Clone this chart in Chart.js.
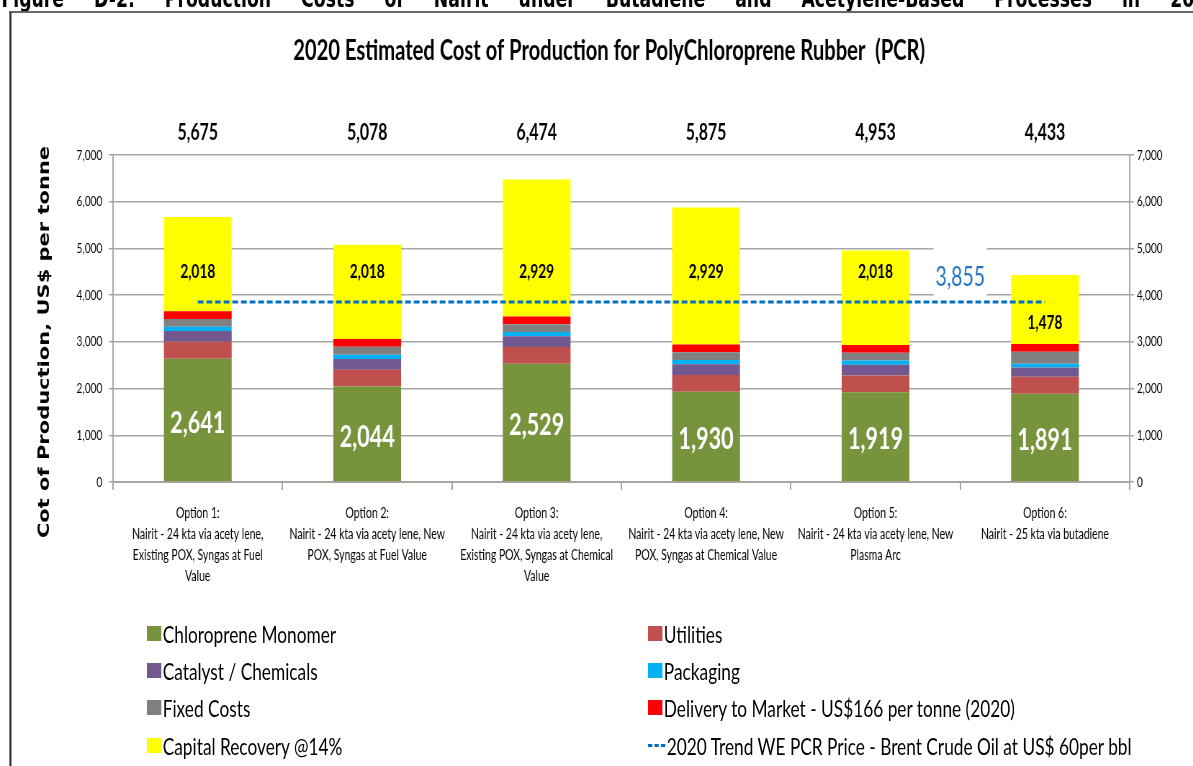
<!DOCTYPE html>
<html>
<head>
<meta charset="utf-8">
<script src="https://cdn.jsdelivr.net/npm/chart.js@4/dist/chart.umd.min.js"></script>
<style>
  html, body { margin: 0; padding: 0; background: #fff; }
  body { width: 1193px; height: 766px; position: relative; overflow: hidden; }
  /* the original picture is squeezed sideways, so lay out wide and squeeze */
  #wrap {
    position: absolute; left: 0; top: 0; width: 1657px; height: 766px;
    transform: scaleX(0.72); transform-origin: 0 0;
  }
  #caption {
    position: absolute; left: 2px; top: -15px; width: 1690px;
    font: bold 24px "DejaVu Sans", sans-serif; color: #000;
    text-align: justify; text-align-last: justify; white-space: nowrap;
  }
  #frame {
    position: absolute; left: 13px; top: 11px; width: 1700px; height: 800px;
    border-top: 2px solid #666; border-left: 3px solid #333;
  }
  #chart { position: absolute; left: 0; top: 0; }
  #legend { position: absolute; left: 0; top: 0; font-family: Lato, sans-serif; font-size: 24px; color: #000; }
  .lg { position: absolute; display: flex; align-items: center; white-space: nowrap; height: 26px; }
  .lg .box { width: 20px; height: 15px; margin-right: 2px; }
  .lg .dash { width: 24px; height: 0; border-top: 3px dashed #0070c0; margin-right: 2px; }
</style>
</head>
<body>
<div id="wrap">
<div id="caption">Figure D-2: Production Costs of Nairit under Butadiene and Acetylene-Based Processes in 2020</div>
<div id="frame"></div>
<canvas id="chart" width="1657" height="766"></canvas>
<div id="legend"></div>
</div>
<script>
/* ── data ── */
const categories = [
  ['Option 1:', 'Nairit - 24 kta via acety lene,', 'Existing POX, Syngas at Fuel', 'Value'],
  ['Option 2:', 'Nairit - 24 kta via acety lene, New', 'POX, Syngas at Fuel Value'],
  ['Option 3:', 'Nairit - 24 kta via acety lene,', 'Existing POX, Syngas at Chemical', 'Value'],
  ['Option 4:', 'Nairit - 24 kta via acety lene, New', 'POX, Syngas at Chemical Value'],
  ['Option 5:', 'Nairit - 24 kta via acety lene, New', 'Plasma Arc'],
  ['Option 6:', 'Nairit - 25 kta via butadiene']
];
const chloroprene     = [2641, 2044, 2529, 1930, 1919, 1891];
const utilities       = [360, 360, 360, 360, 360, 360];
const catalyst        = [230, 230, 230, 230, 230, 200];
const packaging       = [90, 90, 90, 90, 90, 80];
const fixedCosts      = [170, 170, 170, 170, 170, 258];
const delivery        = [166, 166, 166, 166, 166, 166];
const capitalRecovery = [2018, 2018, 2929, 2929, 2018, 1478];
const totals          = [5675, 5078, 6474, 5875, 4953, 4433];
const trendPrice      = [3855, 3855, 3855, 3855, 3855, 3855];
const yTicks          = [0, 1000, 2000, 3000, 4000, 5000, 6000, 7000];

const FONT = 'Lato, sans-serif';
const GRID = '#a6a6a6';
const fmt = v => v.toLocaleString('en-US');

const barSeries = [
  { label: 'Chloroprene Monomer', data: chloroprene, color: '#77933c' },
  { label: 'Utilities', data: utilities, color: '#c0504d' },
  { label: 'Catalyst / Chemicals', data: catalyst, color: '#72588f' },
  { label: 'Packaging', data: packaging, color: '#00b0f0' },
  { label: 'Fixed Costs', data: fixedCosts, color: '#808080' },
  { label: 'Delivery to Market - US$166 per tonne (2020)', data: delivery, color: '#ff0000' },
  { label: 'Capital Recovery @14%', data: capitalRecovery, color: '#ffff00' }
];
const trendLabel = '2020 Trend WE PCR Price - Brent Crude Oil at US$ 60per bbl';

/* ── labels, title, axis title ── */
const textPlugin = {
  id: 'texts',
  afterDatasetsDraw(chart) {
    const ctx = chart.ctx;
    const x = chart.scales.x, y = chart.scales.y;
    const trendY = y.getPixelForValue(trendPrice[0]);
    ctx.save();
    ctx.textAlign = 'center';
    ctx.textBaseline = 'middle';

    // green segment values
    chart.getDatasetMeta(0).data.forEach((el, i) => {
      ctx.font = 'bold 30px ' + FONT;
      ctx.fillStyle = '#fff';
      ctx.fillText(fmt(chloroprene[i]), el.x, (el.y + el.base) / 2 + 3);
    });
    // capital recovery values: upper band if room, else below the trend line
    chart.getDatasetMeta(6).data.forEach((el, i) => {
      const top = totals[i], base = top - capitalRecovery[i];
      const v = top - 4500 > 250 ? 4500 : (base + trendPrice[i]) / 2;
      ctx.font = 'bold 19px ' + FONT;
      ctx.fillStyle = '#000';
      ctx.fillText(fmt(capitalRecovery[i]), el.x, y.getPixelForValue(v));
    });
    // totals
    totals.forEach((t, i) => {
      ctx.font = 'bold 22px ' + FONT;
      ctx.fillStyle = '#000';
      ctx.fillText(fmt(t), x.getPixelForValue(i), 133);
    });
    // trend value
    const tx = x.getPixelForValue(4.5);
    ctx.fillStyle = '#fff';
    ctx.fillRect(tx - 37, y.getPixelForValue(5000) - 2, 74, y.getPixelForValue(4000) - y.getPixelForValue(5000) + 3);
    ctx.font = '27px ' + FONT;
    ctx.fillStyle = '#1f74c4';
    ctx.fillText(fmt(trendPrice[0]), tx, trendY - 25);
    ctx.restore();
  },
  afterDraw(chart) {
    const ctx = chart.ctx;
    ctx.save();
    ctx.textAlign = 'center';
    ctx.textBaseline = 'middle';
    ctx.fillStyle = '#000';
    ctx.font = 'bold 28px ' + FONT;
    ctx.fillText('2020 Estimated Cost of Production for PolyChloroprene Rubber  (PCR)', 846, 51);
    ctx.translate(63, 342);
    ctx.rotate(-Math.PI / 2);
    ctx.font = 'bold 21px "DejaVu Sans", sans-serif';
    ctx.fillText('Cot of Production, US$ per tonne', 0, 0);
    ctx.restore();
  }
};

const tickCfg = { color: '#000', font: { family: FONT, size: 14 }, callback: v => fmt(v) };

const datasets = barSeries.map(s => ({
  type: 'bar', label: s.label, data: s.data, order: 1,
  backgroundColor: s.color, borderWidth: 0,
  barPercentage: 0.4, categoryPercentage: 1
}));
datasets.push({
  type: 'line', label: trendLabel, data: trendPrice, order: 0,
  borderColor: '#0070c0', borderWidth: 3, borderDash: [8, 4],
  pointRadius: 0, fill: false
});

new Chart(document.getElementById('chart'), {
  data: { labels: categories, datasets },
  plugins: [textPlugin],
  options: {
    responsive: false,
    animation: false,
    devicePixelRatio: 1,
    layout: { padding: { top: 155, left: 0, right: 0, bottom: 0 } },
    plugins: { legend: { display: false }, tooltip: { enabled: false }, title: { display: false } },
    scales: {
      x: {
        stacked: true,
        afterFit: s => { s.height = 284; },
        grid: { offset: true, drawOnChartArea: false, tickLength: 8, color: GRID, lineWidth: 2 },
        border: { color: GRID, width: 2 },
        ticks: { autoSkip: false, maxRotation: 0, padding: 13, color: '#000', font: { family: FONT, size: 14.5, lineHeight: 1.45 } }
      },
      y: {
        stacked: true, min: 0, max: 7000,
        afterFit: s => { s.width = 157; },
        afterBuildTicks: s => { s.ticks = yTicks.map(v => ({ value: v })); },
        grid: { color: GRID, lineWidth: 1.5, tickLength: 6 },
        border: { color: GRID, width: 2 },
        ticks: Object.assign({ padding: 9 }, tickCfg)
      },
      y2: {
        position: 'right', min: 0, max: 7000,
        afterFit: s => { s.width = 88; },
        afterBuildTicks: s => { s.ticks = yTicks.map(v => ({ value: v })); },
        grid: { drawOnChartArea: false, color: GRID, lineWidth: 1.5, tickLength: 6 },
        border: { color: GRID, width: 2 },
        ticks: Object.assign({ padding: 4 }, tickCfg)
      }
    }
  }
});

/* ── legend (two columns, like the original) ── */
const legendItems = [
  [barSeries[0], 204, 633], [barSeries[1], 900, 633],
  [barSeries[2], 204, 670], [barSeries[3], 900, 670],
  [barSeries[4], 204, 707], [barSeries[5], 900, 707],
  [barSeries[6], 204, 745], [{ label: trendLabel, line: true }, 900, 745]
];
const legendEl = document.getElementById('legend');
legendItems.forEach(([item, lx, ly]) => {
  const div = document.createElement('div');
  div.className = 'lg';
  div.style.left = lx + 'px';
  div.style.top = (ly - 13) + 'px';
  const key = document.createElement('span');
  if (item.line) key.className = 'dash';
  else { key.className = 'box'; key.style.background = item.color; }
  div.appendChild(key);
  div.appendChild(document.createTextNode(item.label));
  legendEl.appendChild(div);
});
</script>
</body>
</html>
